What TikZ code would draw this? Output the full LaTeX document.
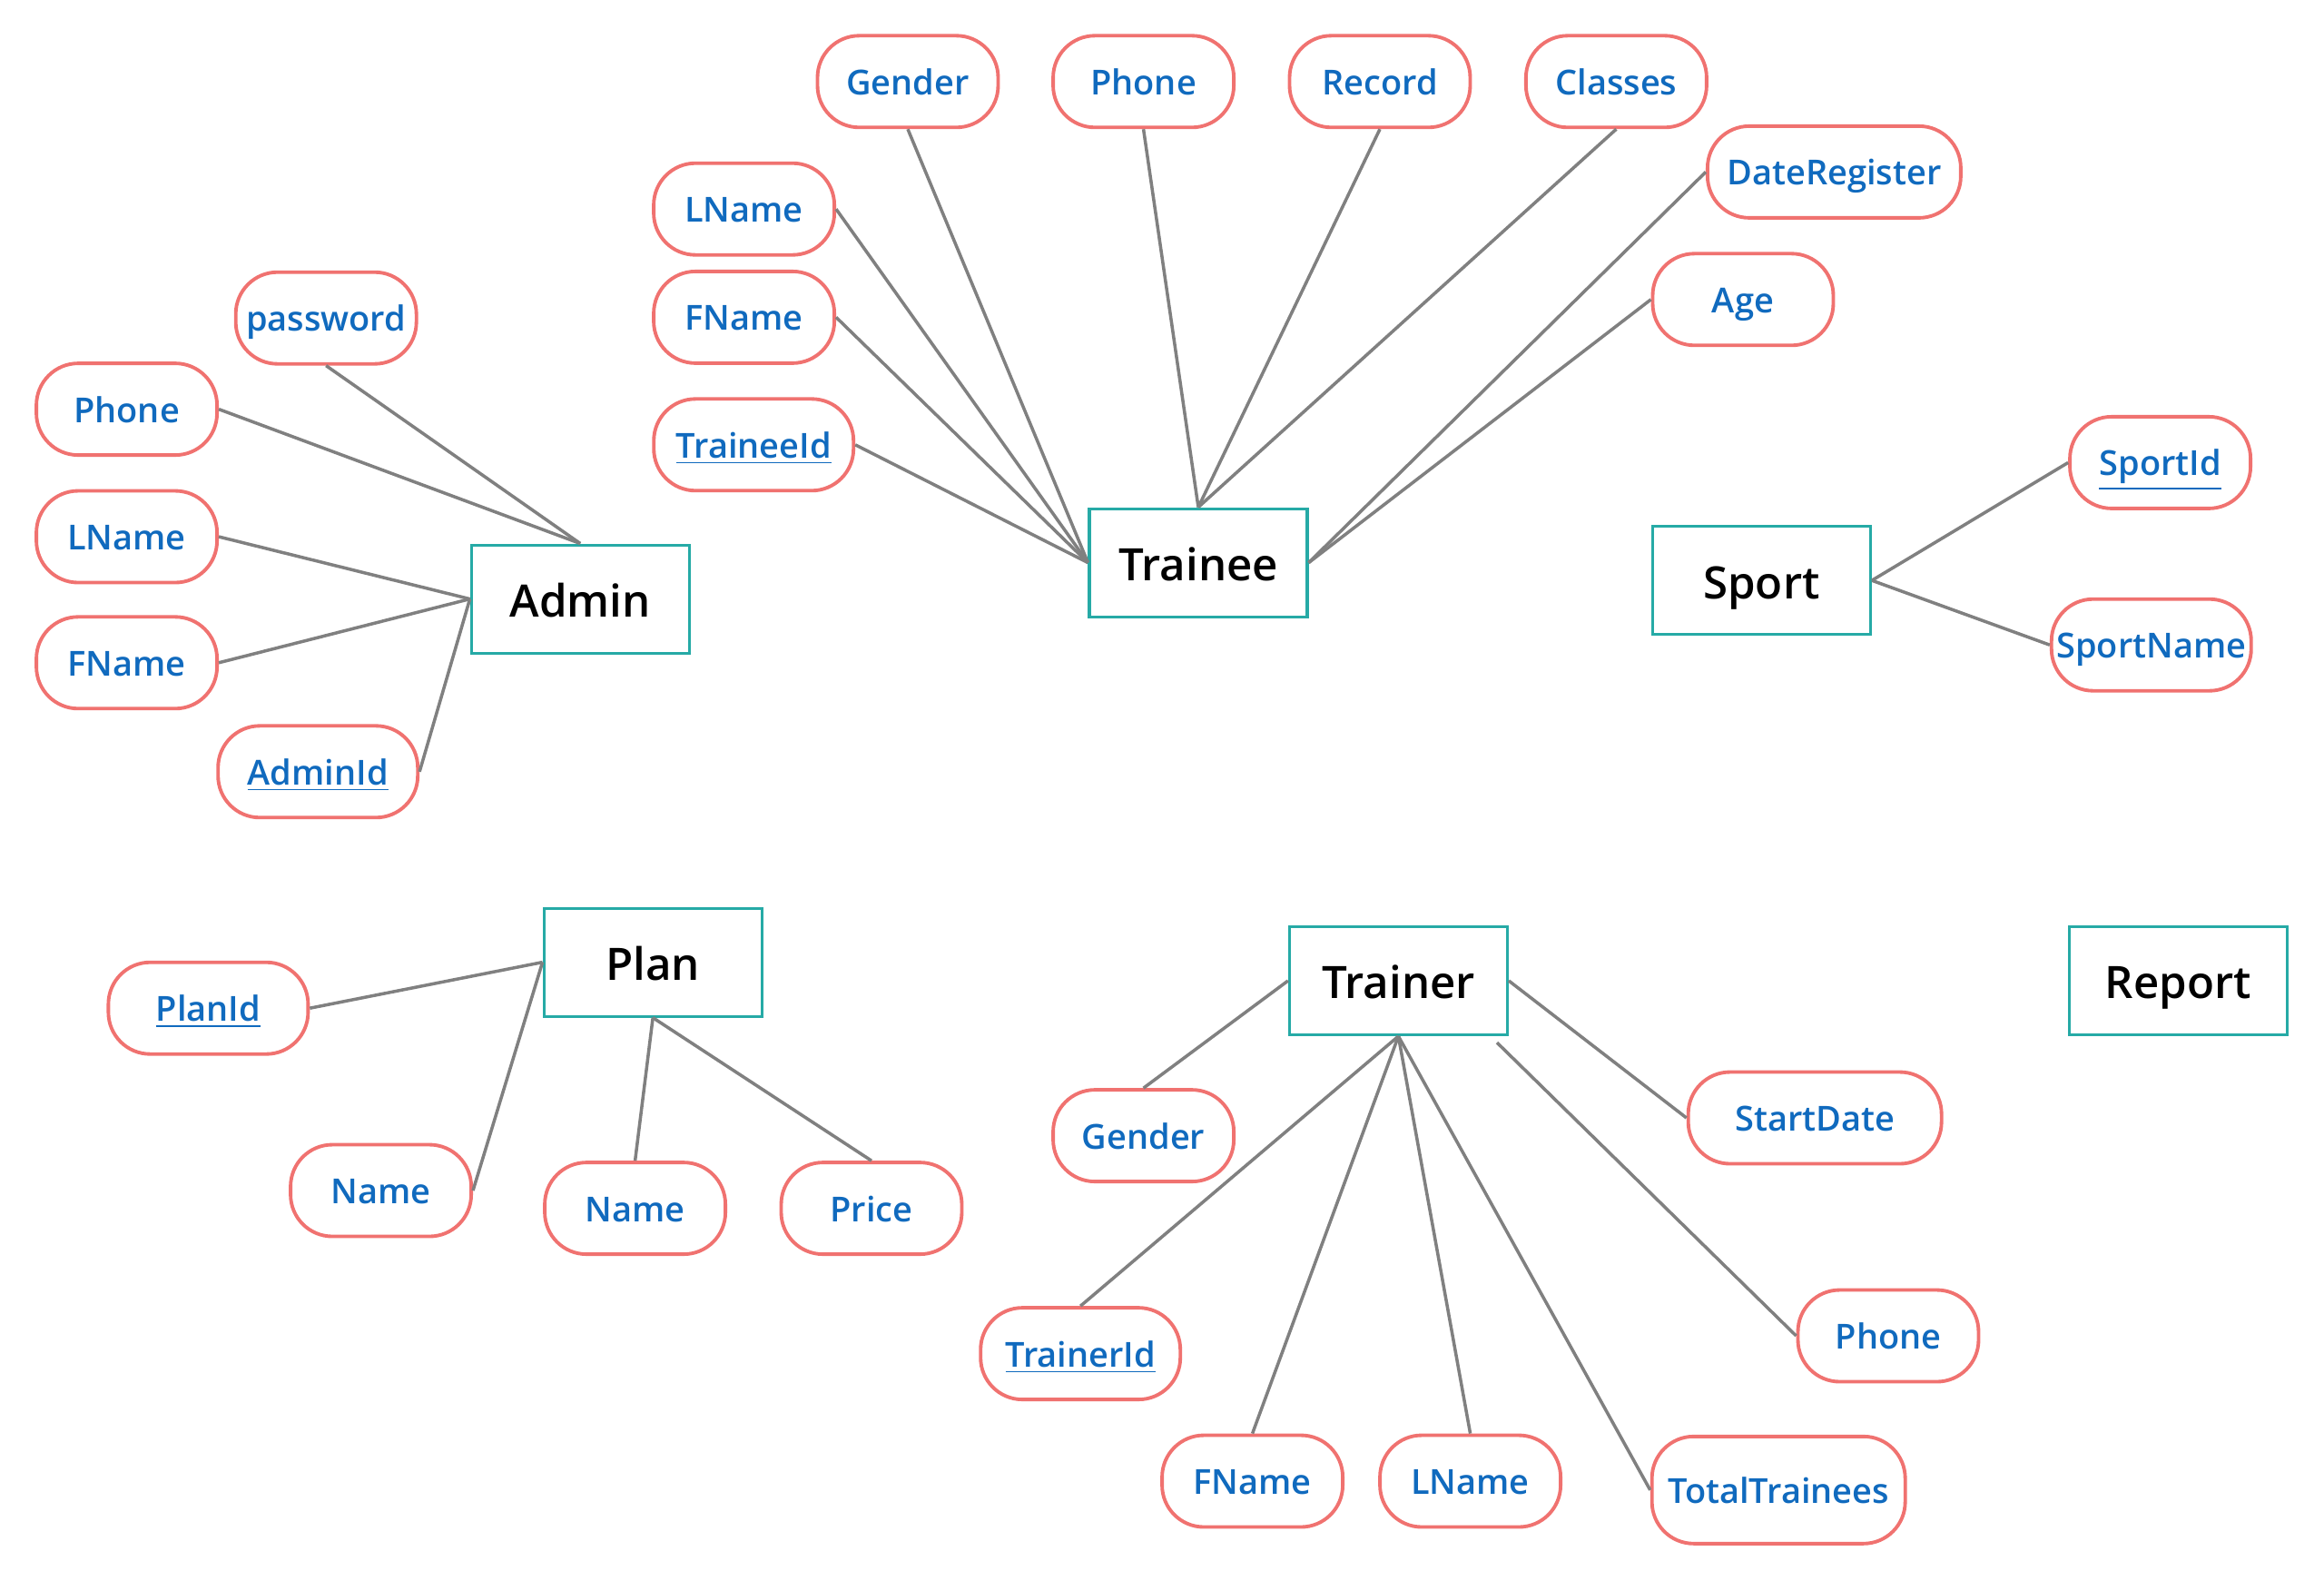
\documentclass[tikz,border=0pt]{standalone}
\usepackage{fontspec}
\setmainfont{Open Sans}
\IfFontExistsTF{Open Sans SemiBold}
  {\newfontfamily\erfont{Open Sans SemiBold}}
  {\IfFontExistsTF{Open Sans Semibold}
    {\newfontfamily\erfont{Open Sans Semibold}}
    {\newfontfamily\erfont{Open Sans}}}
\usepackage{tikz}
\usetikzlibrary{positioning}
\definecolor{erteal}{RGB}{38,170,166}
\definecolor{erred}{RGB}{240,114,112}
\definecolor{erblue}{RGB}{16,106,190}
\definecolor{ergray}{RGB}{128,128,128}
\newcommand{\pk}[1]{\underline{#1}}

\begin{document}
\begin{tikzpicture}[
  x=0.16327mm,
  y=-0.16327mm,
  entity/.style={
    draw=erteal,
    line width=0.9pt,
    fill=white,
    minimum width=2.40cm,
    minimum height=1.19cm,
    inner sep=0pt,
    text height=13pt,
    text depth=1.7pt,
    font=\erfont\fontsize{14}{16}\selectfont
  },
  attr/.style={
    draw=erred,
    line width=1.1pt,
    fill=white,
    rounded corners=0.46cm,
    minimum width=1.99cm,
    minimum height=1.01cm,
    inner sep=0pt,
    text height=10.2pt,
    text depth=2pt,
    text=erblue,
    font=\erfont\fontsize{10.8}{13}\selectfont
  },
  wide/.style={minimum width=2.20cm},
  wider/.style={minimum width=2.79cm},
  link/.style={
    draw=ergray,
    line width=1pt
  }
]

\useasboundingbox (0,0) rectangle (1568,1066);

% entities
\node[entity] (admin) at (391.5,404) {Admin};
\node[entity] (trainee) at (808.5,379.5) {Trainee};
\node[entity] (sport) at (1188.5,391.5) {Sport};
\node[entity] (plan) at (440.5,649) {Plan};
\node[entity] (trainer) at (943.5,661.5) {Trainer};
\node[entity] (report) at (1469.5,661.5) {Report};

% admin attributes
\node[attr] (adPass) at (220,214.5) {password};
\node[attr] (adPhone) at (85.5,276) {Phone};
\node[attr] (adLName) at (85.5,362) {LName};
\node[attr] (adFName) at (85.5,447) {FName};
\node[attr, wide] (adId) at (214.5,520.5) {\pk{AdminId}};

% trainee attributes
\node[attr] (trGender) at (612.5,55) {Gender};
\node[attr] (trPhone) at (771.5,55) {Phone};
\node[attr] (trRecord) at (931,55) {Record};
\node[attr] (trClasses) at (1090.5,55) {Classes};
\node[attr, wider] (trDate) at (1237.5,116) {DateRegister};
\node[attr] (trAge) at (1176,202) {Age};
\node[attr] (trLName) at (502,141) {LName};
\node[attr] (trFName) at (502,214) {FName};
\node[attr, wide] (trId) at (508.5,300) {\pk{TraineeId}};

% sport attributes
\node[attr] (spId) at (1457.5,312) {\pk{SportId}};
\node[attr, wide] (spName) at (1451.5,435) {SportName};

% plan attributes
\node[attr, wide] (plId) at (140.5,680) {\pk{PlanId}};
\node[attr] (plName) at (257,803) {Name};
\node[attr] (plName2) at (428.5,815) {Name};
\node[attr] (plPrice) at (588,815) {Price};

% trainer attributes
\node[attr] (tnGender) at (771.5,766) {Gender};
\node[attr, wider] (tnStart) at (1224.5,754) {StartDate};
\node[attr, wide] (tnId) at (729,913) {\pk{TrainerId}};
\node[attr] (tnFName) at (845,999) {FName};
\node[attr] (tnLName) at (992,999) {LName};
\node[attr, wider, minimum height=1.18cm] (tnTotal) at (1200,1005) {TotalTrainees};
\node[attr] (tnPhone) at (1274,901) {Phone};

\draw[link] (adPass.south) -- (admin.north);
\draw[link] (adPhone.east) -- (admin.north);
\draw[link] (adLName.east) -- (admin.west);
\draw[link] (adFName.east) -- (admin.west);
\draw[link] (adId.east) -- (admin.west);

\draw[link] (trGender.south) -- (trainee.west);
\draw[link] (trLName.east) -- (trainee.west);
\draw[link] (trFName.east) -- (trainee.west);
\draw[link] (trId.east) -- (trainee.west);
\draw[link] (trPhone.south) -- (trainee.north);
\draw[link] (trRecord.south) -- (trainee.north);
\draw[link] (trClasses.south) -- (trainee.north);
\draw[link] (trDate.west) -- (trainee.east);
\draw[link] (trAge.west) -- (trainee.east);

\draw[link] (sport.east) -- (spId.west);
\draw[link] (sport.east) -- (spName.west);

\draw[link] (plId.east) -- (plan.west);
\draw[link] (plName.east) -- (plan.west);
\draw[link] (plName2.north) -- (plan.south);
\draw[link] (plPrice.north) -- (plan.south);

\draw[link] (tnGender.north) -- (trainer.west);
\draw[link] (tnId.north) -- (trainer.south);
\draw[link] (tnFName.north) -- (trainer.south);
\draw[link] (tnLName.north) -- (trainer.south);
\draw[link] (tnTotal.west) -- (trainer.south);
\draw[link] (tnStart.west) -- (trainer.east);
\draw[link] (tnPhone.west) -- ([xshift=-0.13cm,yshift=-0.07cm]trainer.south east);

\end{tikzpicture}
\end{document}
